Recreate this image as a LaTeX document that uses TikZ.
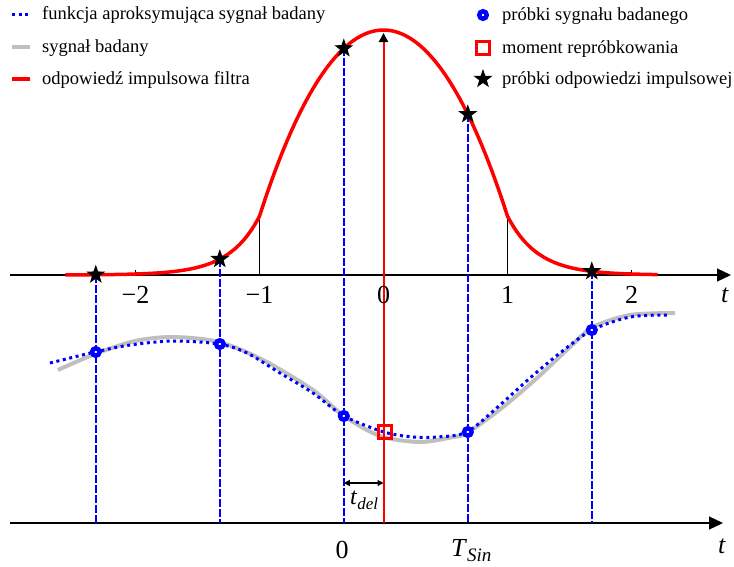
\documentclass[tikz,border=0pt]{standalone}
\usepackage{fontspec}
\setmainfont{Liberation Serif}
\usetikzlibrary{arrows.meta,shapes.geometric}
\definecolor{pureblue}{RGB}{0,0,255}
\begin{document}
\begin{tikzpicture}[x=1pt,y=-1pt,
  axisline/.style={line width=1.2pt,-{Triangle[length=14pt,width=13pt]}},
  vline/.style={draw=pureblue,line width=1.5pt,dash pattern=on 8pt off 2pt},
  sigcurve/.style={black!25,line width=4pt},
  approx/.style={draw=pureblue,line width=3pt,dash pattern=on 3pt off 3.6pt},
  resp/.style={red,line width=3.5pt},
  sampmark/.style={circle,draw=pureblue,line width=4.5pt,fill=white,minimum size=7.5pt,inner sep=0pt},
  starmark/.style={star,star points=5,star point ratio=2.5,fill=black,minimum size=20pt,inner sep=0pt},
  sqmark/.style={rectangle,draw=red,line width=3pt,minimum size=13pt,inner sep=0pt},
  ticklab/.style={font=\fontsize{26}{30}\selectfont,anchor=base,inner sep=0pt},
  leg/.style={font=\fontsize{18.5}{22}\selectfont,anchor=base west,inner sep=0pt}]
\useasboundingbox (0,0) rectangle (734,566);

% signal (gray) and approximation (blue dotted)
\draw[sigcurve] plot[smooth] coordinates {(58,370) (95,354) (135,341) (173,337) (219,342) (263,360) (313,390) (344,416) (380,436) (420,442) (453,437) (467,433) (503,407) (537,378) (570,347) (593,327) (630,315) (675,313)};
\draw[approx] plot[smooth] coordinates {(50,363) (95,352) (130,345) (173,341) (219,344) (247,353) (280,373) (313,393) (344,416) (384,432) (413,437) (437,437) (467,432) (500,405) (530,378) (560,353) (592,330) (630,317) (667,315)};

% axes
\coordinate (ta0) at (10,275);
\coordinate (ta1) at (731,275);
\coordinate (ba0) at (10,523);
\coordinate (ba1) at (723,523);
\draw[axisline] (ta0) -- (ta1);
\draw[axisline] (ba0) -- (ba1);

% ticks
\coordinate (tm2) at (135.5,275); \coordinate (tm2u) at (135.5,270);
\coordinate (tp2) at (631.5,275); \coordinate (tp2u) at (631.5,270);
\draw[line width=1pt] (tm2) -- (tm2u);
\draw[line width=1pt] (tp2) -- (tp2u);
\coordinate (tm1) at (259.5,275); \coordinate (tm1u) at (259.5,216.2);
\coordinate (tp1) at (507.5,275); \coordinate (tp1u) at (507.5,216.2);
\draw[line width=1.2pt] (tm1) -- (tm1u);
\draw[line width=1.2pt] (tp1) -- (tp1u);

% impulse response
\draw[resp,line join=round]
  plot[domain=-2.565:-1,samples=50] ({383.5+124*\x},{275-58.8*exp(4.08*(\x+1))})
  -- plot[domain=-1:1,samples=80] ({383.5+124*\x},{275-245*(1-0.73*\x*\x-0.03*\x*\x*\x*\x)})
  -- plot[domain=1:2.21,samples=50] ({383.5+124*\x},{275-58.8*exp(-4.08*(\x-1))});

% sample positions
\coordinate (p1) at (95.8,274.7);
\coordinate (p2) at (219.8,259.1);
\coordinate (p3) at (343.8,48.4);
\coordinate (p4) at (467.8,114.3);
\coordinate (p5) at (591.8,271.3);
\coordinate (b1) at (95.8,523);
\coordinate (b2) at (219.8,523);
\coordinate (b3) at (343.8,523);
\coordinate (b4) at (467.8,523);
\coordinate (b5) at (591.8,523);
\foreach \i in {1,...,5} \draw[vline] (p\i) -- (b\i);

% reference (red) line
\coordinate (r0) at (383.5,523);
\coordinate (r1) at (383.5,33);
\draw[red,line width=2pt,-{Triangle[length=9pt,width=9pt,black]}] (r0) -- (r1);

% t_del
\coordinate (d0) at (343.8,483);
\coordinate (d1) at (383.5,483);
\draw[line width=1.2pt,{Triangle[length=6pt,width=6pt]}-{Triangle[length=6pt,width=6pt]}] (d0) -- (d1);
\node[font=\fontsize{24}{28}\selectfont,anchor=base west,inner sep=0pt] (tdel) at (350,504) {\textit{t}\raisebox{-5pt}{\fontsize{17}{20}\selectfont\textit{del}}};

% markers
\node[sampmark] (c1) at (95.8,352) {};
\node[sampmark] (c2) at (219.8,344) {};
\node[sampmark] (c3) at (343.8,416) {};
\node[sampmark] (c4) at (467.8,432) {};
\node[sampmark] (c5) at (591.8,330) {};
\node[sqmark] (sq) at (384.5,432) {};
\foreach \i in {1,...,5} \node[starmark] (s\i) at (p\i) {};

% tick labels
\node[ticklab] (lm2) at (135.5,303) {−2};
\node[ticklab] (lm1) at (259.5,303) {−1};
\node[ticklab] (l0) at (383.5,303) {0};
\node[ticklab] (l1) at (507.5,303) {1};
\node[ticklab] (l2) at (631.5,303) {2};
\node[ticklab] (lt) at (725,302) {\textit{t}};
\node[ticklab] (bl0) at (342,558) {0};
\node[ticklab,anchor=base west] (blT) at (451,556) {\textit{T}\raisebox{-5pt}{\fontsize{19}{22}\selectfont\textit{Sin}}};
\node[ticklab] (blt) at (722,553) {\textit{t}};

% legend left
\coordinate (la0) at (12,14); \coordinate (la1) at (30,14);
\draw[approx] (la0) -- (la1);
\node[leg] (lg1) at (42,19) {funkcja aproksymująca sygnał badany};
\coordinate (lb0) at (12,47); \coordinate (lb1) at (30,47);
\draw[sigcurve] (lb0) -- (lb1);
\node[leg] (lg2) at (42,52) {sygnał badany};
\coordinate (lc0) at (12,79); \coordinate (lc1) at (30,79);
\draw[resp] (lc0) -- (lc1);
\node[leg] (lg3) at (42,84) {odpowiedź impulsowa filtra};

% legend right
\node[sampmark] (mk1) at (483,15) {};
\node[leg] (lg4) at (502,20) {próbki sygnału badanego};
\node[sqmark,fill=white] (mk2) at (483,48) {};
\node[leg] (lg5) at (502,53) {moment repróbkowania};
\node[starmark] (mk3) at (483,79) {};
\node[leg] (lg6) at (502,84) {próbki odpowiedzi impulsowej};
\end{tikzpicture}
\end{document}
